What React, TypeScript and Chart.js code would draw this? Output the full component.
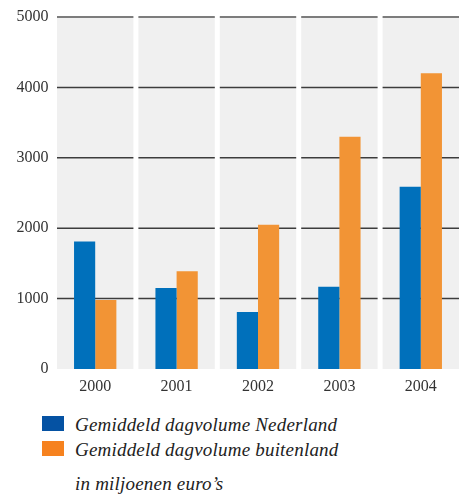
import React, { useEffect, useRef } from "react";
import { Chart, registerables } from "chart.js";

Chart.register(...registerables);

const years = ["2000", "2001", "2002", "2003", "2004"];
const nederland = [1810, 1150, 810, 1170, 2590];
const buitenland = [980, 1390, 2050, 3300, 4200];
const yTicks = [0, 1000, 2000, 3000, 4000, 5000];
const legendLabels = ["Gemiddeld dagvolume Nederland", "Gemiddeld dagvolume buitenland"];
const unitNote = "in miljoenen euro\u2019s";

const BAR_BLUE = "#0070bb";
const BAR_ORANGE = "#f29435";
const KEY_BLUE = "#0552a3";
const KEY_ORANGE = "#f6821f";
const PANEL_BG = "#f0f0f0";
const PANEL_GAP = 5;
const SERIF = "'Liberation Serif', 'Times New Roman', serif";

// Grey column behind each year, with horizontal rules that stop at the gaps.
const panelPlugin = {
  id: "yearPanels",
  beforeDatasetsDraw(chart: any) {
    const { ctx, chartArea } = chart;
    const y = chart.scales.y;
    const n = years.length;
    const w = (chartArea.right - chartArea.left) / n;
    ctx.save();
    for (let i = 0; i < n; i++) {
      const l = chartArea.left + i * w + PANEL_GAP / 2;
      const r = chartArea.left + (i + 1) * w - PANEL_GAP / 2;
      ctx.fillStyle = PANEL_BG;
      ctx.fillRect(l, chartArea.top, r - l, chartArea.bottom - chartArea.top);
      for (const v of yTicks) {
        if (v === 0) continue;
        const yy = y.getPixelForValue(v);
        const top = v === yTicks[yTicks.length - 1];
        ctx.strokeStyle = top ? "#7c7c7c" : "#3c3c3c";
        ctx.lineWidth = top ? 2 : 1.5;
        ctx.beginPath();
        ctx.moveTo(l, yy);
        ctx.lineTo(r, yy);
        ctx.stroke();
      }
    }
    ctx.restore();
  },
};

export default function App() {
  const canvasRef = useRef<HTMLCanvasElement | null>(null);

  useEffect(() => {
    if (!canvasRef.current) return;
    const chart = new Chart(canvasRef.current, {
      type: "bar",
      data: {
        labels: years,
        datasets: [
          { label: legendLabels[0], data: nederland, backgroundColor: BAR_BLUE },
          { label: legendLabels[1], data: buitenland, backgroundColor: BAR_ORANGE },
        ],
      },
      options: {
        responsive: false,
        animation: false,
        layout: { padding: { top: 17, right: 2.5, left: 0, bottom: 0 } },
        datasets: { bar: { categoryPercentage: 0.52, barPercentage: 1 } },
        plugins: { legend: { display: false }, tooltip: { enabled: false } },
        scales: {
          x: {
            grid: { display: false, drawTicks: false },
            border: { display: false },
            ticks: { color: "#333", padding: 8, font: { family: SERIF, size: 16 } },
            afterFit: (s: any) => {
              s.height = 31;
            },
          },
          y: {
            min: 0,
            max: 5000,
            grid: { display: false, drawTicks: false },
            border: { display: false },
            ticks: {
              stepSize: 1000,
              color: "#333",
              padding: 6,
              font: { family: SERIF, size: 16 },
              callback: (v: any) => String(v),
            },
            afterFit: (s: any) => {
              s.width = 54.5;
            },
          },
        },
      },
      plugins: [panelPlugin],
    });
    return () => chart.destroy();
  }, []);

  const textStyle: React.CSSProperties = {
    position: "absolute",
    left: 75,
    fontFamily: SERIF,
    fontStyle: "italic",
    fontSize: 19,
    lineHeight: "19px",
    letterSpacing: "0.2px",
    color: "#222",
    whiteSpace: "nowrap",
  };
  const keyStyle = (top: number, color: string): React.CSSProperties => ({
    position: "absolute",
    left: 42,
    top,
    width: 22,
    height: 15,
    background: color,
  });

  return (
    <div style={{ position: "absolute", left: 0, top: 0, width: 464, height: 497, background: "#fff" }}>
      <canvas ref={canvasRef} width={464} height={400} style={{ display: "block" }} />
      <div style={keyStyle(416, KEY_BLUE)} />
      <div style={{ ...textStyle, top: 415 }}>{legendLabels[0]}</div>
      <div style={keyStyle(441, KEY_ORANGE)} />
      <div style={{ ...textStyle, top: 440 }}>{legendLabels[1]}</div>
      <div style={{ ...textStyle, top: 474 }}>{unitNote}</div>
    </div>
  );
}
